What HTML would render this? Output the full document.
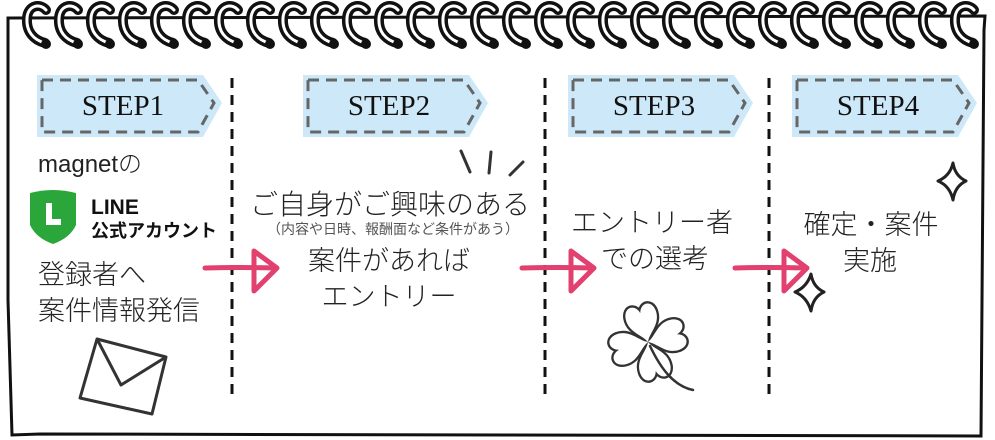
<!DOCTYPE html>
<html><head><meta charset="utf-8"><style>
body{margin:0;background:#fff;}
svg{display:block;}
text{font-family:"Liberation Sans","Noto Sans CJK JP",sans-serif;fill:#222;}
.st{font-family:"Liberation Serif","Noto Serif CJK SC",serif;font-size:29px;fill:#111;}
.j{font-size:27px;font-weight:300;}
</style></head><body>
<svg width="995" height="440" viewBox="0 0 995 440" xmlns="http://www.w3.org/2000/svg">
<defs>
<g id="r">
<path d="M46,10 C40,3 28,5 27,18 C26,32 34,40 45,43" fill="none" stroke="#111" stroke-width="10" stroke-linecap="round"/>
<path d="M46,10 C40,3 28,5 27,18 C26,32 34,40 45,43" fill="none" stroke="#fff" stroke-width="3" stroke-linecap="round"/>
<circle cx="46" cy="44" r="5" fill="#111"/>
</g>
<path id="pt" d="M0,0 C-3,-7 -13,-11 -12,-22 C-11,-31 -2,-31 0,-23 C2,-31 11,-31 12,-22 C13,-11 3,-7 0,0 Z"/>
</defs>
<path d="M8,18 L985,16 L984,30 L981,436 L40,434 L12,435 L8,300 Z" fill="#fff" stroke="#111" stroke-width="3"/>
<g>
<use href="#r" x="0"/><use href="#r" x="32"/><use href="#r" x="64"/><use href="#r" x="96"/><use href="#r" x="128"/><use href="#r" x="160"/><use href="#r" x="192"/><use href="#r" x="224"/><use href="#r" x="256"/><use href="#r" x="288"/><use href="#r" x="320"/><use href="#r" x="352"/><use href="#r" x="384"/><use href="#r" x="416"/><use href="#r" x="448"/><use href="#r" x="480"/><use href="#r" x="512"/><use href="#r" x="544"/><use href="#r" x="576"/><use href="#r" x="608"/><use href="#r" x="640"/><use href="#r" x="672"/><use href="#r" x="704"/><use href="#r" x="736"/><use href="#r" x="768"/><use href="#r" x="800"/><use href="#r" x="832"/><use href="#r" x="864"/><use href="#r" x="896"/><use href="#r" x="928"/>
</g>
<g stroke="#111" stroke-width="3" stroke-dasharray="10,7">
<line x1="232" y1="78" x2="232" y2="400"/>
<line x1="545" y1="78" x2="545" y2="400"/>
<line x1="769" y1="78" x2="769" y2="400"/>
</g>
<g id="b">
<path d="M37,75 L203,75 L222,103 L203,137 L37,137 Z" fill="#cde9f9"/>
<path d="M42,80 L198,80 L214,103 L198,132 L42,132 Z" fill="none" stroke="#666" stroke-width="3" stroke-dasharray="11,7"/>
</g>
<use href="#b" x="266"/><use href="#b" x="531"/><use href="#b" x="755"/>
<text class="st" x="123" y="115" text-anchor="middle">STEP1</text>
<text class="st" x="389" y="115" text-anchor="middle">STEP2</text>
<text class="st" x="654" y="115" text-anchor="middle">STEP3</text>
<text class="st" x="878" y="115" text-anchor="middle">STEP4</text>
<text x="38" y="172" style="font-size:24px;font-weight:300">magnetの</text>
<path d="M30,193 Q53,187 76,193 L76,225 Q70,238 53,244 Q36,238 30,225 Z" fill="#2aa63a"/>
<path d="M46,203 L52,203 L52,219 L61,219 L61,225 L46,225 Z" fill="#fff"/>
<text x="91" y="214" style="font-size:21px;font-weight:bold;fill:#111">LINE</text>
<text x="91" y="237" style="font-size:18px;font-weight:bold;fill:#111">公式アカウント</text>
<text class="j" x="38" y="284">登録者へ</text>
<text class="j" x="38" y="320">案件情報発信</text>
<path d="M97,339 L166,357 L152,414 L80,398 Z M97,339 L121,385 L166,357" fill="none" stroke="#333" stroke-width="3" stroke-linejoin="round"/>
<g stroke="#333" stroke-width="3" stroke-linecap="round"><line x1="461" y1="151" x2="470" y2="172"/><line x1="491" y1="152" x2="489" y2="173"/><line x1="523" y1="162" x2="510" y2="175"/></g>
<text class="j" x="390" y="214" text-anchor="middle" style="font-size:28px">ご自身がご興味のある</text>
<text x="393" y="234" text-anchor="middle" style="font-size:14px;fill:#555">（内容や日時、報酬面など条件があう）</text>
<text class="j" x="389" y="270" text-anchor="middle">案件があれば</text>
<text class="j" x="389" y="306" text-anchor="middle">エントリー</text>
<text class="j" x="652" y="232" text-anchor="middle">エントリー者</text>
<text class="j" x="655" y="268" text-anchor="middle">での選考</text>
<g transform="translate(648,342)">
<g transform="scale(1.3)">
<g fill="none" stroke="#333" stroke-width="3.6">
<use href="#pt" transform="rotate(-15)"/><use href="#pt" transform="rotate(75)"/><use href="#pt" transform="rotate(165)"/><use href="#pt" transform="rotate(255)"/>
</g>
<g fill="#fff">
<use href="#pt" transform="rotate(-15)"/><use href="#pt" transform="rotate(75)"/><use href="#pt" transform="rotate(165)"/><use href="#pt" transform="rotate(255)"/>
</g>
</g>
<path d="M2,4 C12,25 25,44 45,48" fill="none" stroke="#333" stroke-width="2.5" stroke-linecap="round"/>
</g>
<text class="j" x="871" y="234" text-anchor="middle">確定・案件</text>
<text class="j" x="870" y="270" text-anchor="middle">実施</text>
<g fill="none" stroke="#222" stroke-width="3" stroke-linejoin="round">
<path d="M953,163 Q955,176 966,181 Q955,186 953,200 Q950,186 938,181 Q950,176 953,163 Z"/>
<path d="M811,274 Q813,287 824,292 Q813,297 811,311 Q807,297 795,292 Q807,287 811,274 Z"/>
</g>
<g id="a" fill="none" stroke="#e2416f" stroke-width="5" stroke-linecap="round" stroke-linejoin="round">
<path d="M205,268 Q240,267 276,268"/>
<path d="M254,251 L277,268 L254,291 Z"/>
</g>
<use href="#a" x="317"/><use href="#a" x="530"/>
</svg>
</body></html>
